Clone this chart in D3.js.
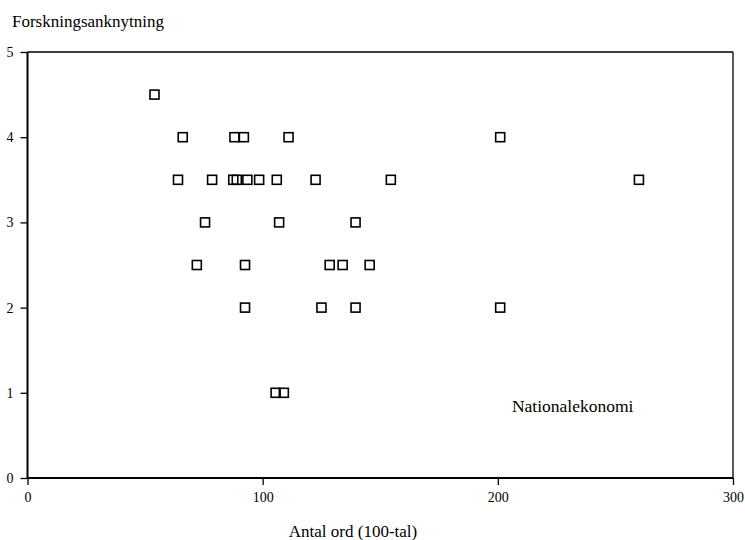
<!DOCTYPE html>
<html><head><meta charset="utf-8">
<script src="https://cdn.jsdelivr.net/npm/d3@7"></script>
<style>body{margin:0;background:#fff}svg{display:block}text{font-family:"Liberation Serif","Times New Roman",serif;fill:#000}</style>
</head><body><svg id="c" width="745" height="540"></svg>
<script>
const xVals = [54, 66, 88, 92, 111, 201, 64, 78.5, 87.5, 89, 93.5, 98.5, 106, 122.5, 154.5, 260, 75.5, 107, 139.5, 72, 92.5, 128.5, 134, 145.5, 92.5, 125, 139.5, 201, 105.5, 109];
const yVals = [4.5, 4, 4, 4, 4, 4, 3.5, 3.5, 3.5, 3.5, 3.5, 3.5, 3.5, 3.5, 3.5, 3.5, 3, 3, 3, 2.5, 2.5, 2.5, 2.5, 2.5, 2, 2, 2, 2, 1, 1];
const xTicks = [0, 100, 200, 300];
const yTicks = [0, 1, 2, 3, 4, 5];

const svg = d3.select("#c");
const L = 27.5, R = 733, T = 52, B = 478;
const x = d3.scaleLinear().domain([0, 300]).range([L, R]);
const y = d3.scaleLinear().domain([0, 5]).range([B, T]);

// frame
svg.append("line").attr("x1", L).attr("x2", R).attr("y1", T).attr("y2", T).attr("stroke", "#000").attr("stroke-width", 1.3);
svg.append("line").attr("x1", R).attr("x2", R).attr("y1", T).attr("y2", B).attr("stroke", "#000").attr("stroke-width", 1.3);

const xa = svg.append("g").attr("transform", `translate(0,${B})`)
  .call(d3.axisBottom(x).tickValues(xTicks).tickSize(7).tickPadding(7).tickFormat(d3.format("d")));
const ya = svg.append("g").attr("transform", `translate(${L},0)`)
  .call(d3.axisLeft(y).tickValues(yTicks).tickSize(7).tickPadding(7).tickFormat(d3.format("d")));
[xa, ya].forEach(a => {
  a.select(".domain").attr("stroke", "#000").attr("stroke-width", 2);
  a.selectAll(".tick line").attr("stroke", "#000").attr("stroke-width", 1.3);
  a.selectAll("text").attr("font-family", "Liberation Serif").attr("font-size", 14);
});
xa.select(".domain").attr("d", `M${L},0H${R}`);
ya.select(".domain").attr("d", `M0,${B}V${T}`);

svg.append("g").selectAll("rect").data(xVals.map((v, i) => [v, yVals[i]])).join("rect")
  .attr("x", d => x(d[0]) - 4.5).attr("y", d => y(d[1]) - 4.5)
  .attr("width", 9).attr("height", 9)
  .attr("fill", "none").attr("stroke", "#000").attr("stroke-width", 1.6);

svg.append("text").attr("x", 12).attr("y", 27).attr("font-size", 17).text("Forskningsanknytning");
svg.append("text").attr("x", 353).attr("y", 537).attr("text-anchor", "middle").attr("font-size", 17).text("Antal ord (100-tal)");
svg.append("text").attr("x", x(206)).attr("y", y(0.78)).attr("font-size", 17.5).text("Nationalekonomi");
</script></body></html>
